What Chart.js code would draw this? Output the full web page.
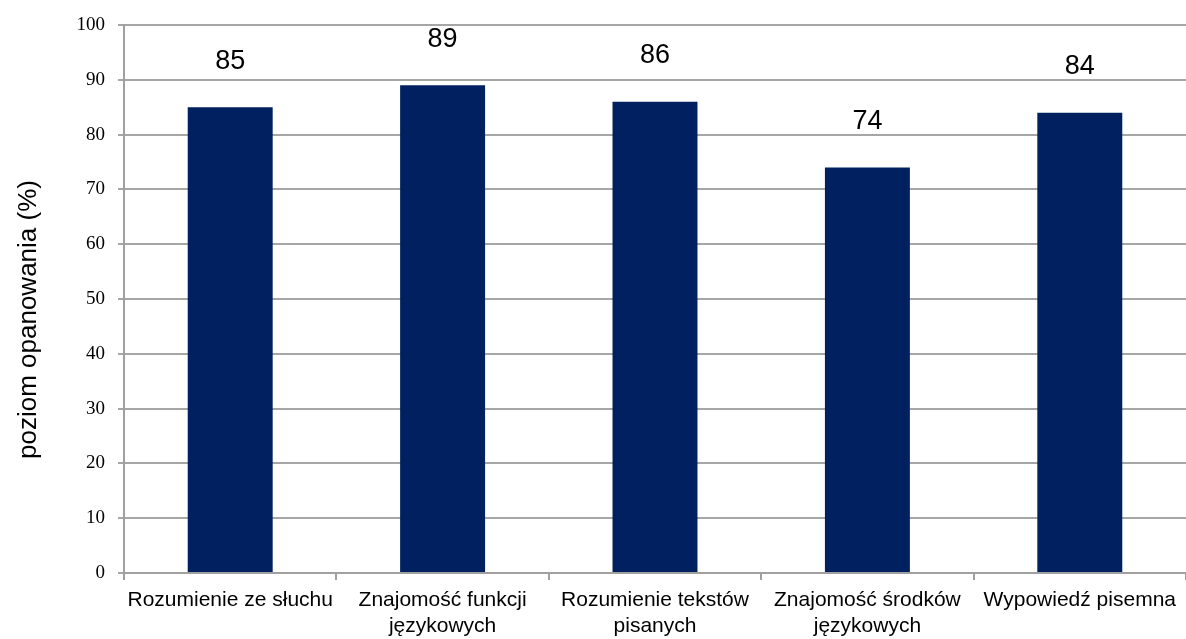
<!DOCTYPE html>
<html>
<head>
<meta charset="utf-8">
<script src="https://cdn.jsdelivr.net/npm/chart.js@4/dist/chart.umd.min.js"></script>
<style>
  html, body { margin: 0; padding: 0; background: #fff; }
  #wrap { width: 1186px; height: 639px; }
</style>
</head>
<body>
<div id="wrap"><canvas id="BarChart"></canvas></div>
<script>
// Categories (multi-line labels are arrays) and scores in percent
const skillLabels = [
    'Rozumienie ze słuchu',
    ['Znajomość funkcji', 'językowych'],
    ['Rozumienie tekstów', 'pisanych'],
    ['Znajomość środków', 'językowych'],
    'Wypowiedź pisemna'
];
const skillScores = [85, 89, 86, 74, 84];
const yTitle = 'poziom opanowania (%)';

// Value numbers drawn above each bar
const valueLabels = {
    id: 'valueLabels',
    afterDatasetsDraw(chart) {
        const ctx = chart.ctx;
        const meta = chart.getDatasetMeta(0);
        ctx.save();
        ctx.font = '27px "Liberation Sans", Arial, sans-serif';
        ctx.fillStyle = '#000';
        ctx.textAlign = 'center';
        ctx.textBaseline = 'middle';
        meta.data.forEach((bar, i) => {
            ctx.fillText(String(chart.data.datasets[0].data[i]), bar.x, bar.y - 46);
        });
        ctx.restore();
    }
};

// Rotated axis title, centred on the whole canvas height
const sideTitle = {
    id: 'sideTitle',
    afterDraw(chart) {
        const ctx = chart.ctx;
        ctx.save();
        ctx.translate(29, chart.height / 2);
        ctx.rotate(-Math.PI / 2);
        ctx.font = '26px "Liberation Sans", Arial, sans-serif';
        ctx.fillStyle = '#000';
        ctx.textAlign = 'center';
        ctx.textBaseline = 'middle';
        ctx.fillText(yTitle, 0, 0);
        ctx.restore();
    }
};

const barConfig = {
    type: 'bar',
    data: {
        labels: skillLabels,
        datasets: [{
            data: skillScores,
            backgroundColor: '#002060',
            borderWidth: 0,
            barPercentage: 0.4,
            categoryPercentage: 1.0
        }]
    },
    options: {
        responsive: true,
        maintainAspectRatio: false,
        animation: false,
        layout: { padding: { top: 25, right: 0, bottom: 0, left: 0 } },
        plugins: {
            legend: { display: false },
            tooltip: { enabled: false }
        },
        scales: {
            x: {
                grid: {
                    offset: true,
                    drawOnChartArea: false,
                    drawTicks: true,
                    tickLength: 7,
                    color: '#a0a0a0',
                    lineWidth: 2
                },
                border: { color: '#a0a0a0', width: 2 },
                ticks: {
                    color: '#000',
                    font: { family: '"Liberation Sans", Arial, sans-serif', size: 21, lineHeight: 1.2 },
                    maxRotation: 0,
                    autoSkip: false,
                    padding: 8
                },
                afterFit(scale) { scale.height = 66; }
            },
            y: {
                min: 0,
                max: 100,
                grid: {
                    color: '#a6a6a6',
                    lineWidth: 2,
                    tickLength: 6
                },
                border: { color: '#a0a0a0', width: 2 },
                ticks: {
                    stepSize: 10,
                    color: '#000',
                    font: { family: '"Liberation Serif", "Times New Roman", serif', size: 19 },
                    padding: 13
                },
                afterFit(scale) { scale.width = 124; }
            }
        }
    },
    plugins: [valueLabels, sideTitle]
};

new Chart(document.getElementById('BarChart').getContext('2d'), barConfig);
</script>
</body>
</html>
